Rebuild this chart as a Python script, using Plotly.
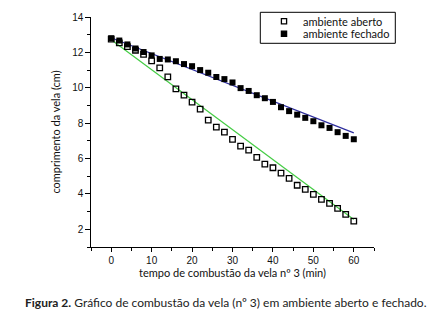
import plotly.graph_objects as go

time_min = list(range(0, 62, 2))
aberto = [12.75, 12.54, 12.32, 12.12, 11.89, 11.52, 11.12, 10.62, 9.94, 9.58,
          9.19, 8.79, 8.17, 7.77, 7.49, 7.08, 6.70, 6.47, 6.07, 5.68,
          5.48, 5.17, 4.88, 4.49, 4.26, 3.98, 3.69, 3.47, 3.18, 2.84, 2.46]
fechado = [12.80, 12.67, 12.45, 12.22, 12.02, 11.83, 11.63, 11.60, 11.50, 11.34,
           11.22, 11.00, 10.85, 10.61, 10.49, 10.30, 9.98, 9.82, 9.58, 9.41,
           9.20, 8.90, 8.68, 8.48, 8.30, 8.11, 7.88, 7.73, 7.49, 7.28, 7.09]
fit_x = [0, 60]
fit_aberto = [12.72, 2.55]
fit_fechado = [12.83, 7.45]

x_ticks = [0, 10, 20, 30, 40, 50, 60]
y_ticks = [2, 4, 6, 8, 10, 12, 14]
legend_names = ["ambiente aberto", "ambiente fechado"]

label_font = "Lato"
tick_font = dict(family="Liberation Sans, Arial", size=10, color="#111")

fig = go.Figure()
fig.add_trace(go.Scatter(x=fit_x, y=fit_aberto, mode="lines",
                         line=dict(color="#44cc44", width=1.2), showlegend=False, hoverinfo="skip"))
fig.add_trace(go.Scatter(x=fit_x, y=fit_fechado, mode="lines",
                         line=dict(color="#2e2e9e", width=1.2), showlegend=False, hoverinfo="skip"))
fig.add_trace(go.Scatter(x=time_min, y=aberto, mode="markers", name=legend_names[0], showlegend=False,
                         marker=dict(symbol="square-open", size=5.5, color="black",
                                     line=dict(width=1.3, color="black"))))
fig.add_trace(go.Scatter(x=time_min, y=fechado, mode="markers", name=legend_names[1], showlegend=False,
                         marker=dict(symbol="square", size=6, color="black",
                                     line=dict(width=0))))

# geometry of plot area in pixels
W, H = 436, 318
L, R, T, B = 83, 70, 9, 79
pw, ph = W - L - R, H - T - B


def px(xp):
    return (xp - L) / pw


def py(yp):
    return (H - B - yp) / ph


fig.update_layout(
    width=W, height=H,
    margin=dict(l=L, r=R, t=T, b=B, autoexpand=False),
    paper_bgcolor="white", plot_bgcolor="white",
    font=dict(family=label_font, size=11, color="#111"),
    showlegend=False,
    xaxis=dict(range=[-5, 65], tickvals=x_ticks, ticktext=[str(v) for v in x_ticks],
               showgrid=False, zeroline=False, showline=True, linecolor="black", linewidth=1.2,
               ticks="outside", ticklen=4, tickwidth=1, tickcolor="black",
               tickfont=tick_font,
               minor=dict(dtick=5, tick0=0, ticks="outside", ticklen=2.5, tickcolor="black", showgrid=False),
               title=dict(text="tempo de combustão da vela nº 3 (min)", standoff=2,
                          font=dict(family=label_font, size=11, color="#111"))),
    yaxis=dict(range=[1, 14], tickvals=y_ticks, ticktext=[str(v) for v in y_ticks],
               showgrid=False, zeroline=False, showline=True, linecolor="black", linewidth=1.2,
               ticks="outside", ticklen=4.5, tickwidth=1, tickcolor="black",
               tickfont=tick_font,
               minor=dict(dtick=1, tick0=0, ticks="outside", ticklen=2.5, tickcolor="black", showgrid=False),
               title=dict(text="comprimento da vela (cm)", standoff=9,
                          font=dict(family=label_font, size=11, color="#111"))),
)

# legend box (drawn manually to match the compact original)
fig.add_shape(type="rect", xref="paper", yref="paper",
              x0=px(252.3), x1=px(387.3), y0=py(35.3), y1=py(4.3),
              line=dict(color="black", width=1), fillcolor="white", layer="above")
leg_rows = [13.3, 25.7]
for i, name in enumerate(legend_names):
    yc = leg_rows[i]
    half = 2.6
    fig.add_shape(type="rect", xref="paper", yref="paper",
                  x0=px(276 - half), x1=px(276 + half), y0=py(yc + half), y1=py(yc - half),
                  line=dict(color="black", width=1.3),
                  fillcolor="white" if i == 0 else "black", layer="above")
    fig.add_annotation(xref="paper", yref="paper", x=px(292.5), y=py(yc),
                       xanchor="left", yanchor="middle", showarrow=False, text=name,
                       font=dict(family=label_font, size=11, color="#111"))

fig.add_annotation(
    xref="paper", yref="paper", x=px(218), y=py(294), xanchor="center", yanchor="middle",
    text="<b>Figura 2.</b> Gráfico de combustão da vela (nº 3) em ambiente aberto e fechado.",
    showarrow=False, font=dict(family=label_font, size=12, color="#222"))

fig.write_html("out.html")
